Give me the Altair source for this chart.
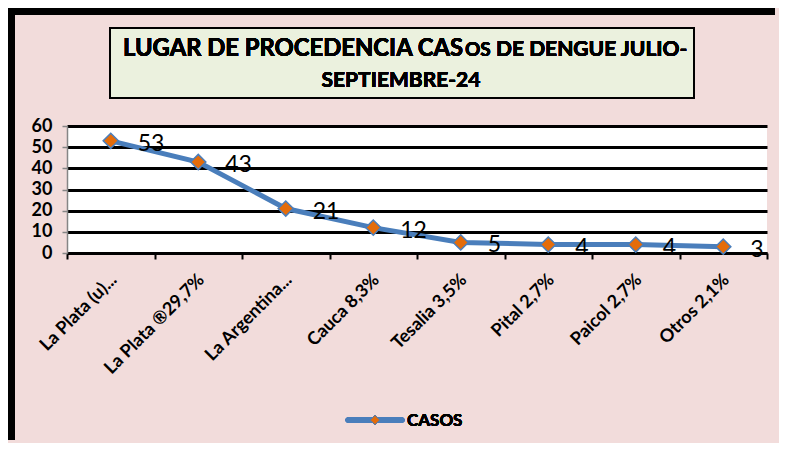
import altair as alt
import pandas as pd

categories = ["La Plata (u)...", "La Plata ®29,7%", "La Argentina...", "Cauca 8,3%",
              "Tesalia 3,5%", "Pital 2,7%", "Paicol 2,7%", "Otros 2,1%"]
casos = [53, 43, 21, 12, 5, 4, 4, 3]
y_ticks = [0, 10, 20, 30, 40, 50, 60]
series_name = "CASOS"
title_parts = ["LUGAR DE PROCEDENCIA CAS", "OS", "DE DENGUE JULIO-"]
title_line2 = "SEPTIEMBRE-24"

df = pd.DataFrame({"cat": categories, "val": casos})

FONT = "Lato"
BLUE = "#4A7EBB"
ORANGE = "#E46C0A"

x_enc = alt.X("cat:N", sort=categories, title=None,
              scale=alt.Scale(paddingInner=0, paddingOuter=0),
              axis=alt.Axis(labelAngle=-45, labelAlign="right", labelBaseline="middle",
                            labelFont=FONT, labelFontSize=18, labelFontWeight="bold",
                            labelColor="black", labelPadding=18, labelOffset=3,
                            tickBand="extent", tickColor="black", tickWidth=2, tickSize=6,
                            domainColor="black", domainWidth=2.5, grid=False,
                            labelOverlap=False, labelLimit=0))
y_enc = alt.Y("val:Q", title=None,
              scale=alt.Scale(domain=[0, 60], nice=False),
              axis=alt.Axis(values=y_ticks, labelFont=FONT, labelFontSize=18,
                            labelFontWeight="bold", labelColor="black", labelPadding=10,
                            labelOverlap=False,
                            tickColor="#868686", tickSize=5, tickWidth=1.5,
                            domainColor="#868686", domainWidth=1.5,
                            grid=True, gridColor="black", gridWidth=3))

base = alt.Chart(df)

frame_top = base.mark_rule(color="black", strokeWidth=7).encode(
    x=alt.value(-59), x2=alt.value(708), y=alt.value(-114.5))
frame_left = base.mark_rule(color="black", strokeWidth=7).encode(
    x=alt.value(-55.5), y=alt.value(-118), y2=alt.value(314))

title_box = base.mark_rect(fill="#EBF1DE", stroke="black", strokeWidth=2).encode(
    x=alt.value(43), x2=alt.value(627), y=alt.value(-98), y2=alt.value(-28))

t1 = base.mark_text(font=FONT, fontWeight="bold", fontSize=23.8, align="right",
                    baseline="alphabetic", color="black").encode(
    x=alt.value(396), y=alt.value(-70), text=alt.value(title_parts[0]))
t2 = base.mark_text(font=FONT, fontWeight="bold", fontSize=19, align="left",
                    baseline="alphabetic", color="black").encode(
    x=alt.value(398), y=alt.value(-70), text=alt.value(title_parts[1]))
t3 = base.mark_text(font=FONT, fontWeight="bold", fontSize=21, align="left",
                    baseline="alphabetic", color="black").encode(
    x=alt.value(429), y=alt.value(-70), text=alt.value(title_parts[2]))
t4 = base.mark_text(font=FONT, fontWeight="bold", fontSize=21, align="center",
                    baseline="alphabetic", color="black").encode(
    x=alt.value(334), y=alt.value(-39), text=alt.value(title_line2))

line = base.mark_line(color=BLUE, strokeWidth=5).encode(x=x_enc, y=y_enc)
pts = base.mark_point(shape="diamond", size=230, filled=True, fill=ORANGE,
                      stroke=BLUE, strokeWidth=1.5, opacity=1).encode(x=x_enc, y=y_enc)
labels = base.mark_text(font=FONT, fontSize=23, align="left", baseline="middle",
                        dx=27, dy=3, color="black").encode(
    x=x_enc, y=y_enc, text="val:Q")

leg_line = base.mark_rule(color=BLUE, strokeWidth=5, strokeCap="round").encode(
    x=alt.value(281), x2=alt.value(335), y=alt.value(294))
leg_pt = base.mark_point(shape="diamond", size=90, filled=True, fill=ORANGE,
                         stroke=BLUE, strokeWidth=1, opacity=1).encode(
    x=alt.value(308), y=alt.value(294))
leg_txt = base.mark_text(font=FONT, fontWeight="bold", fontSize=17, align="left",
                         baseline="middle", color="black").encode(
    x=alt.value(340), y=alt.value(295), text=alt.value(series_name))

chart = alt.layer(frame_top, frame_left, title_box, t1, t2, t3, t4, line, pts, labels,
                  leg_line, leg_pt, leg_txt).properties(
    width=700, height=127,
    autosize=alt.AutoSizeParams(type="none"),
    padding={"left": 59, "top": 118, "right": 12, "bottom": 190},
    background="#F2DCDB",
).configure_view(fill="white", stroke=None)

chart.save("out.html", embed_options={"renderer": "svg", "actions": False})
